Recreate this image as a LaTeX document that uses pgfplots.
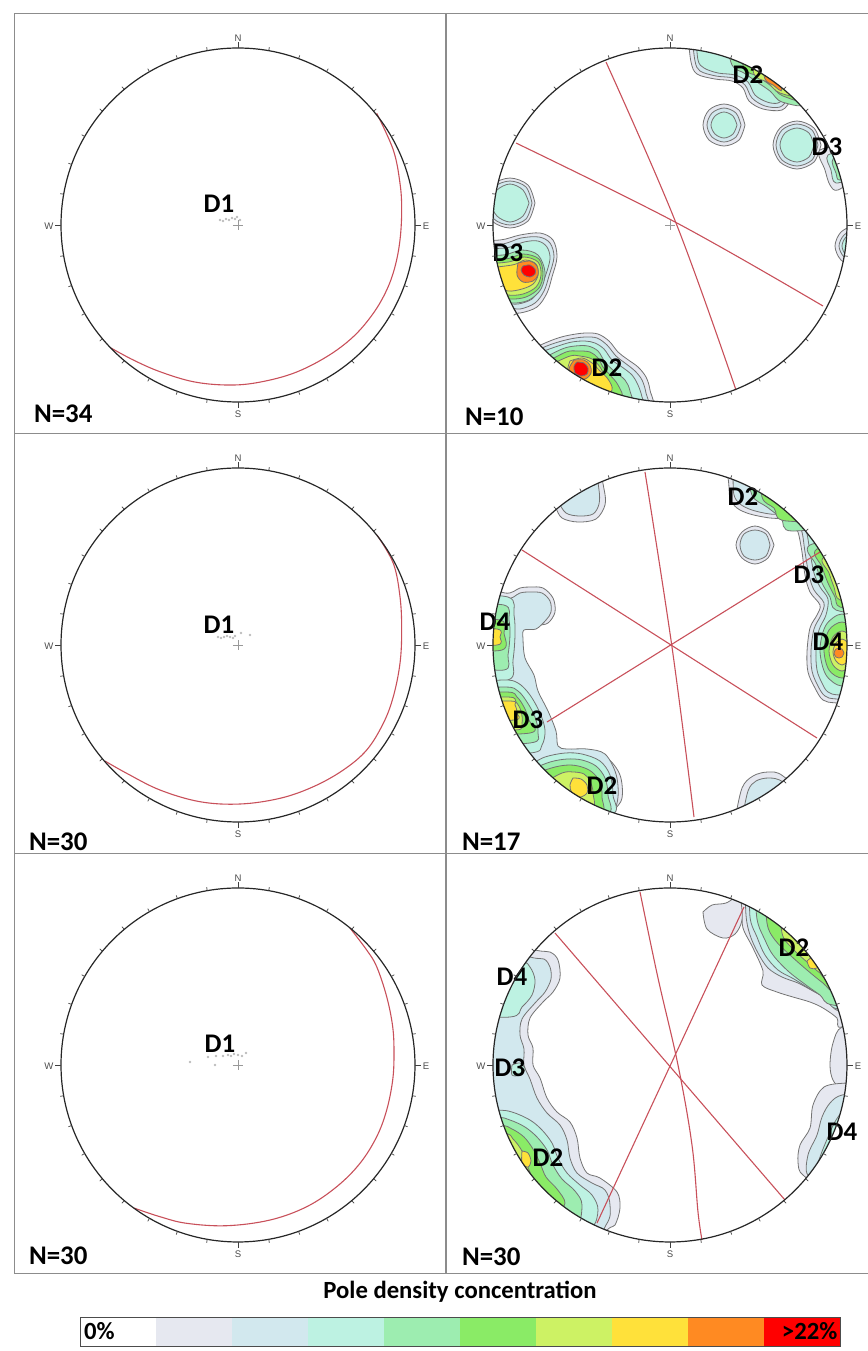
\documentclass[border=0pt]{standalone}
\usepackage{fontspec}
\setmainfont{Carlito}
\newfontfamily\tickfont{Liberation Sans}
\usepackage{pgfplots}
\pgfplotsset{compat=1.18}
\definecolor{c1}{HTML}{E6E8F0}
\definecolor{c2}{HTML}{D2E8EE}
\definecolor{c3}{HTML}{BDF2E2}
\definecolor{c4}{HTML}{9DEDB0}
\definecolor{c5}{HTML}{8AEB66}
\definecolor{c6}{HTML}{CDF264}
\definecolor{c7}{HTML}{FFE13A}
\definecolor{c8}{HTML}{FF8A22}
\definecolor{c9}{HTML}{FF0000}
\definecolor{arcred}{HTML}{C8505A}
\pgfplotsset{
 panel/.style={x=0.5bp, y=0.5bp, y dir=reverse, anchor=south west, ymin=-212, ymax=208,
   enlargelimits=false, xtick=\empty, ytick=\empty, axis line style={black!45, line width=0.5bp}},
 lev/.style={fill=#1, draw=black!55, line width=0.4bp, smooth, tension=0.55},
 gc/.style={arcred, line width=0.55bp, smooth, tension=0.6},
 dots/.style={only marks, mark=*, mark size=0.45bp, black!25},
 ctr/.style={only marks, mark=+, mark size=2.5bp, black!40},
}
\newcommand\lab{\fontsize{13.5}{16}\selectfont\bfseries}
\newcommand\nsew{\tickfont\fontsize{4.8}{5}\selectfont}
\newcommand\stereo[2]{%
 \begin{scope}[shift={({#1*0.5bp},{-#2*0.5bp})}, x=0.5bp, y=-0.5bp]
  \draw[line width=0.6bp, black!85] (0,0) circle[radius=177];
  \foreach \a in {0,10,...,350} \draw[line width=0.35bp, black!75] (\a:177) -- (\a:180.5);
  \foreach \a in {0,90,180,270} \draw[line width=0.35bp, black!75] (\a:177) -- (\a:183);
  \node[font=\nsew, text=black!70] at (0,-187) {N};
  \node[font=\nsew, text=black!70] at (0,189) {S};
  \node[font=\nsew, text=black!70] at (-189,1) {W};
  \node[font=\nsew, text=black!70] at (188,1) {E};
 \end{scope}}
\begin{document}
\begin{tikzpicture}
\useasboundingbox (0,0) rectangle (434bp,-675.5bp);

% ---------------- Panel 1 ----------------
\begin{axis}[panel, at={(7bp,-216.5bp)}, xmin=-224, xmax=208]
\addplot[gc] coordinates {(138.7,-111.7) (155.3,-75) (162,-41.7) (163.7,-15) (162,15) (157,41.7) (148.7,65) (135.3,88.3) (115.3,111.7) (88.7,131.7) (55.3,148.3) (18.7,157.7) (-11.3,160) (-44.7,156.7) (-78,146.7) (-104.7,135) (-127,123)};
\addplot[dots] coordinates {(-18,-5) (-15,-4) (-12,-6) (-9,-5) (-6,-7) (-3,-6) (-1,-8) (2,-5)};
\addplot[ctr] coordinates {(0,0)};
\node[font=\lab] at (axis cs:-19,-21) {D1};
\node[font=\lab, anchor=west] at (axis cs:-211,189) {N=34};
\end{axis}

% ---------------- Panel 2 ----------------
\begin{axis}[panel, at={(223bp,-216.5bp)}, xmin=-224, xmax=202]
\begin{scope}
\clip (axis cs:0,0) circle[radius=177];
% level 1
\addplot[lev=c1] coordinates {(75,-100) (69,-85) (54,-79) (39,-85) (33,-100) (39,-115) (54,-121) (69,-115) (75,-100)} -- cycle;
\addplot[lev=c1] coordinates {(151,-80) (144,-63) (127,-56) (110,-63) (103,-80) (110,-97) (127,-104) (144,-97) (151,-80)} -- cycle;
\addplot[lev=c1] coordinates {(185,-80) (150,-75) (155,-55) (160,-40) (168,-35) (190,-50)} -- cycle;
\addplot[lev=c1] coordinates {(-135,-22) (-142,-4) (-160,3) (-178,-4) (-185,-22) (-178,-40) (-160,-47) (-142,-40) (-135,-22)} -- cycle;
\addplot[lev=c1] coordinates {(205,21) (199,35) (185,41) (171,35) (165,21) (171,7) (185,1) (199,7) (205,21)} -- cycle;
\addplot[lev=c1] coordinates {(-200,15) (-170,15) (-150,10) (-130,8) (-117,15) (-113,32) (-118,52) (-123,68) (-133,82) (-150,88) (-163,87) (-180,85) (-200,70)} -- cycle;
\addplot[lev=c1] coordinates {(-140,125) (-125,118) (-112,113) (-100,110) (-85,108) (-72,109) (-61,116) (-52,127) (-43,134) (-32,142) (-24,152) (-20,165) (-19,185) (-60,200) (-130,170)} -- cycle;
\addplot[lev=c1] coordinates {(18,-190) (21,-163) (27,-151) (45,-146) (62,-144) (73,-137) (79,-124) (93,-116) (112,-115) (122,-126) (135,-140) (70,-200)} -- cycle;
% level 2
\addplot[lev=c2] coordinates {(71,-100) (66,-88) (54,-83) (42,-88) (37,-100) (42,-112) (54,-117) (66,-112) (71,-100)} -- cycle;
\addplot[lev=c2] coordinates {(148,-80) (142,-65) (127,-59) (112,-65) (106,-80) (112,-95) (127,-101) (142,-95) (148,-80)} -- cycle;
\addplot[lev=c2] coordinates {(-138,-22) (-144,-6) (-160,0) (-176,-6) (-182,-22) (-176,-38) (-160,-44) (-144,-38) (-138,-22)} -- cycle;
\addplot[lev=c2] coordinates {(201,21) (196,32) (185,37) (174,32) (169,21) (174,10) (185,5) (196,10) (201,21)} -- cycle;
\addplot[lev=c2] coordinates {(-200,19) (-168,19) (-149,13) (-131,12) (-120,18) (-116,32) (-121,51) (-126,66) (-135,78) (-150,84) (-163,82) (-180,80) (-200,65)} -- cycle;
\addplot[lev=c2] coordinates {(-140,128) (-118,119) (-100,114) (-85,112) (-73,113) (-63,120) (-54,131) (-45,138) (-35,146) (-28,155) (-24,168) (-23,185) (-60,195) (-125,168)} -- cycle;
\addplot[lev=c2] coordinates {(22,-190) (25,-164) (30,-154) (46,-149) (63,-147) (75,-140) (82,-127) (95,-119) (110,-118) (119,-127) (132,-140) (70,-200)} -- cycle;
% level 3
\addplot[lev=c3] coordinates {(67,-100) (63,-91) (54,-87) (45,-91) (41,-100) (45,-109) (54,-113) (63,-109) (67,-100)} -- cycle;
\addplot[lev=c3] coordinates {(144,-80) (139,-68) (127,-63) (115,-68) (110,-80) (115,-92) (127,-97) (139,-92) (144,-80)} -- cycle;
\addplot[lev=c3] coordinates {(185,-75) (158,-70) (161,-55) (166,-42) (190,-50)} -- cycle;
\addplot[lev=c3] coordinates {(-141,-22) (-147,-9) (-160,-3) (-173,-9) (-179,-22) (-173,-35) (-160,-41) (-147,-35) (-141,-22)} -- cycle;
\addplot[lev=c3] coordinates {(198,21) (194,30) (185,34) (176,30) (172,21) (176,12) (185,8) (194,12) (198,21)} -- cycle;
\addplot[lev=c3] coordinates {(-200,23) (-165,23) (-146,17) (-132,16) (-123,22) (-120,34) (-125,52) (-130,63) (-138,74) (-152,79) (-165,78) (-180,76) (-200,60)} -- cycle;
\addplot[lev=c3] coordinates {(-140,131) (-112,121) (-98,117) (-85,116) (-75,118) (-66,124) (-58,135) (-48,142) (-38,150) (-32,160) (-28,172) (-27,185) (-60,195) (-120,166)} -- cycle;
\addplot[lev=c3] coordinates {(26,-190) (28,-165) (34,-157) (48,-152) (65,-150) (78,-143) (85,-130) (97,-123) (108,-122) (116,-129) (128,-142) (70,-200)} -- cycle;
% level 4
\addplot[lev=c4] coordinates {(185,-70) (163,-66) (166,-52) (170,-45) (190,-55)} -- cycle;
\addplot[lev=c4] coordinates {(-200,30) (-167,30) (-148,25) (-132,30) (-125,47) (-129,64) (-141,75) (-157,78) (-174,74) (-200,58)} -- cycle;
\addplot[lev=c4] coordinates {(-130,135) (-108,124) (-95,121) (-82,121) (-72,126) (-65,137) (-56,146) (-45,155) (-40,166) (-38,185) (-70,195) (-115,165)} -- cycle;
\addplot[lev=c4] coordinates {(55,-190) (62,-160) (74,-152) (87,-143) (100,-134) (112,-123) (135,-125) (90,-195)} -- cycle;
% level 5
\addplot[lev=c5] coordinates {(-200,34) (-165,34) (-147,29) (-131,34) (-127,49) (-131,63) (-144,72) (-160,74) (-176,70) (-200,55)} -- cycle;
\addplot[lev=c5] coordinates {(-125,138) (-104,127) (-92,126) (-80,127) (-72,133) (-67,142) (-60,150) (-52,160) (-48,175) (-70,190) (-110,165)} -- cycle;
\addplot[lev=c5] coordinates {(68,-190) (74,-157) (87,-149) (100,-140) (113,-129) (135,-128) (90,-195)} -- cycle;
% level 6
\addplot[lev=c6] coordinates {(-200,40) (-162,37) (-146,32) (-132,37) (-129,50) (-134,62) (-147,69) (-162,70) (-177,65) (-200,52)} -- cycle;
\addplot[lev=c6] coordinates {(-120,140) (-100,131) (-90,131) (-78,134) (-70,142) (-65,152) (-60,162) (-60,178) (-80,185) (-105,165)} -- cycle;
\addplot[lev=c6] coordinates {(80,-185) (84,-151) (97,-143) (110,-132) (130,-133) (95,-190)} -- cycle;
% level 7
\addplot[lev=c7] coordinates {(-200,45) (-158,40) (-145,35) (-134,39) (-132,50) (-137,59) (-148,64) (-162,66) (-174,60) (-200,50)} -- cycle;
\addplot[lev=c7] coordinates {(-100,136) (-88,133) (-78,138) (-70,146) (-62,154) (-58,165) (-70,175) (-90,162) (-102,148) (-100,136)} -- cycle;
% level 8
\addplot[lev=c8] coordinates {(-152,38) (-140,36) (-133,41) (-132,50) (-137,56) (-147,57) (-153,50) (-152,38)} -- cycle;
\addplot[lev=c8] coordinates {(-96,135) (-86,135) (-80,140) (-79,148) (-85,154) (-96,153) (-101,144) (-96,135)} -- cycle;
\addplot[lev=c8] coordinates {(92,-165) (95,-146) (103,-140) (112,-136) (100,-175)} -- cycle;
% level 9
\addplot[lev=c9] coordinates {(-147,41) (-140,40) (-135,44) (-135,49) (-140,52) (-146,50) (-149,45) (-147,41)} -- cycle;
\addplot[lev=c9] coordinates {(-93,137) (-86,138) (-82,143) (-83,149) (-89,151) (-95,148) (-96,141) (-93,137)} -- cycle;
\end{scope}
\addplot[gc] coordinates {(-64,-163) (6,-2) (66,165)};
\addplot[gc] coordinates {(-154,-82) (7,-2) (153,81)};
\addplot[ctr] coordinates {(0,0)};
\node[font=\lab] at (axis cs:78,-150) {D2};
\node[font=\lab] at (axis cs:157,-78) {D3};
\node[font=\lab] at (axis cs:-162,28) {D3};
\node[font=\lab] at (axis cs:-63,143) {D2};
\node[font=\lab, anchor=west] at (axis cs:-212,192) {N=10};
\end{axis}

% ---------------- Panel 3 ----------------
\begin{axis}[panel, at={(7bp,-426.5bp)}, xmin=-224, xmax=208]
\addplot[gc] coordinates {(139,-110) (155.3,-81.7) (162,-48.3) (163.7,-15) (162,18.3) (155.3,51.7) (145.3,78.3) (128.7,105) (105.3,125) (75.3,141.7) (42,153.3) (2,159) (-38,156.7) (-78,145) (-111.3,128.3) (-133,116)};
\addplot[dots] coordinates {(-20,-8) (-17,-7) (-14,-8) (-11,-9) (-8,-8) (-5,-7) (-3,-9) (12,-10) (3,-12)};
\addplot[ctr] coordinates {(0,0)};
\node[font=\lab] at (axis cs:-19,-20) {D1};
\node[font=\lab, anchor=west] at (axis cs:-216,197) {N=30};
\end{axis}

% ---------------- Panel 4 ----------------
\begin{axis}[panel, at={(223bp,-426.5bp)}, xmin=-224, xmax=202]
\begin{scope}
\clip (axis cs:0,0) circle[radius=177];
% level 1
\addplot[lev=c1] coordinates {(-125,-150) (-115,-138) (-108,-127) (-92,-123) (-74,-126) (-65,-140) (-66,-156) (-72,-172) (-100,-195)} -- cycle;
\addplot[lev=c1] coordinates {(50,-200) (58,-167) (60,-147) (67,-137) (80,-131) (100,-127) (118,-126) (123,-120) (128,-113) (132,-93) (135,-70) (140,-53) (150,-40) (147,-30) (140,-17) (137,7) (138,27) (145,43) (153,55) (167,58) (210,60) (210,-200)} -- cycle;
\addplot[lev=c1] coordinates {(104,-100) (98,-87) (85,-81) (72,-87) (66,-100) (72,-113) (85,-119) (98,-113) (104,-100)} -- cycle;
\addplot[lev=c1] coordinates {(-200,-65) (-165,-52) (-150,-57) (-140,-58) (-127,-57) (-117,-47) (-115,-33) (-122,-22) (-133,-20) (-148,-20) (-152,-7) (-150,13) (-140,30) (-137,47) (-127,67) (-118,87) (-117,105) (-103,108) (-83,108) (-63,113) (-50,130) (-48,153) (-57,167) (-80,200) (-220,50)} -- cycle;
\addplot[lev=c1] coordinates {(65,175) (72,143) (83,131) (98,127) (113,131) (140,160) (100,200)} -- cycle;
% level 2
\addplot[lev=c2] coordinates {(-120,-150) (-112,-143) (-104,-132) (-91,-129) (-77,-131) (-71,-141) (-71,-155) (-76,-172) (-100,-190)} -- cycle;
\addplot[lev=c2] coordinates {(62,-200) (63,-167) (64,-150) (70,-141) (82,-135) (100,-131) (120,-130) (127,-122) (132,-113) (135,-93) (139,-70) (144,-55) (154,-42) (151,-30) (144,-16) (141,6) (142,26) (148,41) (155,51) (167,54) (210,55) (210,-200)} -- cycle;
\addplot[lev=c2] coordinates {(100,-100) (96,-89) (85,-85) (74,-89) (70,-100) (74,-111) (85,-115) (96,-111) (100,-100)} -- cycle;
\addplot[lev=c2] coordinates {(-200,-58) (-165,-46) (-150,-52) (-140,-53) (-128,-52) (-120,-44) (-119,-33) (-124,-25) (-134,-16) (-146,-15) (-147,-6) (-145,13) (-136,30) (-132,46) (-122,66) (-114,86) (-112,101) (-103,104) (-83,104) (-65,109) (-54,129) (-52,152) (-58,170) (-80,200) (-220,50)} -- cycle;
\addplot[lev=c2] coordinates {(72,175) (78,146) (86,136) (99,133) (113,137) (140,160) (100,200)} -- cycle;
% level 3
\addplot[lev=c3] coordinates {(75,-200) (78,-165) (85,-152) (100,-145) (115,-140) (128,-128) (136,-115) (140,-93) (144,-72) (150,-58) (158,-46) (156,-30) (149,-15) (146,6) (147,25) (152,38) (158,47) (170,50) (210,50) (210,-200)} -- cycle;
\addplot[lev=c3] coordinates {(-220,-50) (-162,-48) (-156,-30) (-155,-10) (-157,15) (-162,35) (-220,35)} -- cycle;
\addplot[lev=c3] coordinates {(-220,40) (-168,35) (-152,38) (-140,50) (-130,68) (-125,85) (-128,100) (-140,108) (-220,110)} -- cycle;
\addplot[lev=c3] coordinates {(-140,120) (-125,112) (-105,108) (-88,109) (-70,116) (-60,130) (-57,150) (-60,170) (-140,170)} -- cycle;
% level 4
\addplot[lev=c4] coordinates {(75,-185) (82,-150) (97,-138) (111,-127) (123,-114) (200,-130) (150,-200)} -- cycle;
\addplot[lev=c4] coordinates {(200,-110) (140,-100) (146,-80) (152,-62) (160,-48) (166,-35) (200,-30)} -- cycle;
\addplot[lev=c4] coordinates {(194,5) (188,30) (172,41) (156,30) (150,5) (156,-20) (172,-31) (188,-20) (194,5)} -- cycle;
\addplot[lev=c4] coordinates {(-220,-40) (-166,-40) (-161,-25) (-160,-10) (-162,10) (-166,25) (-220,20)} -- cycle;
\addplot[lev=c4] coordinates {(-220,45) (-165,42) (-152,46) (-143,57) (-135,72) (-132,88) (-140,98) (-220,100)} -- cycle;
\addplot[lev=c4] coordinates {(-140,125) (-120,117) (-103,114) (-88,115) (-74,121) (-65,133) (-62,150) (-65,170) (-140,165)} -- cycle;
% level 5
\addplot[lev=c5] coordinates {(90,-185) (92,-148) (104,-137) (117,-124) (200,-130) (150,-200)} -- cycle;
\addplot[lev=c5] coordinates {(200,-105) (147,-96) (152,-78) (158,-62) (165,-48) (170,-38) (200,-35)} -- cycle;
\addplot[lev=c5] coordinates {(190,5) (185,25) (172,33) (159,25) (154,5) (159,-15) (172,-23) (185,-15) (190,5)} -- cycle;
\addplot[lev=c5] coordinates {(-220,-25) (-170,-25) (-166,-12) (-168,5) (-220,5)} -- cycle;
\addplot[lev=c5] coordinates {(-220,50) (-163,47) (-153,52) (-146,62) (-141,75) (-140,88) (-220,90)} -- cycle;
\addplot[lev=c5] coordinates {(-140,130) (-115,122) (-100,120) (-88,122) (-78,127) (-70,137) (-68,152) (-72,170) (-140,160)} -- cycle;
% level 6
\addplot[lev=c6] coordinates {(200,-100) (154,-88) (159,-72) (164,-58) (170,-45) (200,-45)} -- cycle;
\addplot[lev=c6] coordinates {(185,6) (181,20) (172,26) (163,20) (159,6) (163,-8) (172,-14) (181,-8) (185,6)} -- cycle;
\addplot[lev=c6] coordinates {(-220,55) (-162,52) (-154,57) (-149,66) (-148,78) (-155,85) (-220,80)} -- cycle;
\addplot[lev=c6] coordinates {(-130,140) (-108,128) (-96,127) (-86,129) (-80,136) (-77,148) (-80,165) (-130,165)} -- cycle;
% level 7
\addplot[lev=c7] coordinates {(181,7) (178,16) (172,20) (166,16) (163,7) (166,-2) (172,-6) (178,-2) (181,7)} -- cycle;
\addplot[lev=c7] coordinates {(-220,-16) (-173,-16) (-170,-8) (-173,0) (-220,0)} -- cycle;
\addplot[lev=c7] coordinates {(-220,58) (-160,56) (-155,60) (-153,68) (-156,75) (-220,75)} -- cycle;
\addplot[lev=c7] coordinates {(-97,133) (-89,134) (-83,140) (-83,148) (-90,152) (-98,148) (-100,140) (-97,133)} -- cycle;
% level 8
\addplot[lev=c8] coordinates {(174,8) (172,12) (169,13) (166,12) (164,8) (166,4) (169,3) (172,4) (174,8)} -- cycle;
\end{scope}
\addplot[gc] coordinates {(-25,-173) (2,2) (24,172)};
\addplot[gc] coordinates {(-148,-95) (147,93)};
\addplot[gc] coordinates {(-123,77) (150,-93)};
\node[font=\lab] at (axis cs:73,-148) {D2};
\node[font=\lab] at (axis cs:139,-70) {D3};
\node[font=\lab] at (axis cs:-175,-23) {D4};
\node[font=\lab] at (axis cs:158,-3) {D4};
\node[font=\lab] at (axis cs:-142,75) {D3};
\node[font=\lab] at (axis cs:-68,141) {D2};
\node[font=\lab, anchor=west] at (axis cs:-215,197) {N=17};
\end{axis}

% ---------------- Panel 5 ----------------
\begin{axis}[panel, at={(7bp,-636.5bp)}, xmin=-224, xmax=208]
\addplot[gc] coordinates {(112,-137) (128.7,-115) (138.7,-98.3) (148.7,-68.3) (154.7,-38.3) (156,-11.7) (154.7,15) (148.7,45) (138.7,71.7) (122,98.3) (98.7,121.7) (68.7,141.7) (32,155) (-11.3,160.7) (-51.3,158.3) (-78,151.7) (-104,143)};
\addplot[dots] coordinates {(-48,-3) (-23,0) (-30,-8) (-22,-9) (-15,-9) (-10,-10) (-7,-9) (-4,-11) (0,-10) (4,-9) (8,-12)};
\addplot[ctr] coordinates {(0,0)};
\node[font=\lab] at (axis cs:-18,-21) {D1};
\node[font=\lab, anchor=west] at (axis cs:-216,191) {N=30};
\end{axis}

% ---------------- Panel 6 ----------------
\begin{axis}[panel, at={(223bp,-636.5bp)}, xmin=-224, xmax=202]
\begin{scope}
\clip (axis cs:0,0) circle[radius=177];
% level 1
\addplot[lev=c1] coordinates {(33,-153) (37,-136) (53,-127) (65,-131) (72,-145) (72,-170) (56,-162) (42,-160) (33,-153)} -- cycle;
\addplot[lev=c1] coordinates {(68,-190) (72,-155) (73,-137) (83,-117) (93,-94) (92,-80) (107,-73) (123,-68) (140,-63) (153,-57) (167,-47) (172,-38) (220,-60) (150,-200)} -- cycle;
\addplot[lev=c1] coordinates {(200,-38) (172,-38) (163,-22) (160,0) (163,15) (172,22) (200,20)} -- cycle;
\addplot[lev=c1] coordinates {(200,18) (176,18) (154,22) (143,40) (140,63) (130,80) (128,97) (133,110) (160,120) (220,60)} -- cycle;
\addplot[lev=c1] coordinates {(-200,-130) (-135,-115) (-120,-113) (-112,-105) (-110,-87) (-117,-73) (-127,-63) (-140,-47) (-142,-30) (-137,-17) (-137,0) (-130,13) (-123,33) (-113,47) (-100,57) (-93,73) (-90,93) (-83,108) (-70,113) (-53,127) (-50,143) (-55,160) (-63,165) (-100,200) (-230,50)} -- cycle;
% level 2
\addplot[lev=c2] coordinates {(75,-190) (76,-150) (80,-130) (88,-112) (98,-97) (112,-88) (128,-82) (143,-74) (157,-66) (170,-54) (220,-55) (150,-200)} -- cycle;
\addplot[lev=c2] coordinates {(200,28) (172,30) (160,38) (152,52) (147,70) (138,90) (138,110) (160,110) (220,60)} -- cycle;
\addplot[lev=c2] coordinates {(-200,-125) (-140,-108) (-126,-106) (-120,-98) (-119,-86) (-125,-73) (-135,-62) (-148,-46) (-150,-30) (-146,-16) (-146,0) (-140,14) (-133,33) (-123,48) (-110,60) (-103,75) (-100,93) (-93,108) (-78,118) (-65,125) (-60,140) (-64,160) (-100,200) (-230,50)} -- cycle;
% level 3
\addplot[lev=c3] coordinates {(80,-190) (80,-148) (87,-128) (95,-110) (108,-95) (124,-86) (140,-76) (155,-67) (168,-56) (220,-55) (150,-200)} -- cycle;
\addplot[lev=c3] coordinates {(200,42) (176,45) (166,55) (158,72) (150,92) (145,110) (160,110) (220,60)} -- cycle;
\addplot[lev=c3] coordinates {(-200,-120) (-150,-105) (-140,-98) (-135,-85) (-138,-70) (-148,-58) (-160,-48) (-230,-50)} -- cycle;
\addplot[lev=c3] coordinates {(-158,0) (-150,-2) (-145,4) (-150,10) (-158,10) (-158,0)} -- cycle;
\addplot[lev=c3] coordinates {(-230,45) (-175,45) (-158,47) (-140,55) (-128,65) (-118,78) (-112,93) (-103,108) (-90,120) (-78,130) (-72,145) (-80,165) (-120,190)} -- cycle;
% level 4
\addplot[lev=c4] coordinates {(85,-185) (87,-146) (95,-125) (103,-110) (118,-94) (136,-80) (150,-70) (163,-60) (220,-60) (150,-200)} -- cycle;
\addplot[lev=c4] coordinates {(-230,52) (-175,52) (-160,55) (-145,62) (-133,72) (-123,85) (-117,100) (-108,114) (-95,126) (-88,140) (-95,165) (-130,180)} -- cycle;
% level 5
\addplot[lev=c5] coordinates {(95,-185) (97,-142) (105,-125) (120,-110) (137,-95) (153,-82) (168,-72) (220,-70) (150,-200)} -- cycle;
\addplot[lev=c5] coordinates {(-230,60) (-172,60) (-158,64) (-146,72) (-137,84) (-130,98) (-124,112) (-113,124) (-105,138) (-115,150) (-140,165)} -- cycle;
% level 6
\addplot[lev=c6] coordinates {(110,-170) (112,-132) (122,-117) (137,-103) (150,-92) (162,-85) (220,-90) (160,-170)} -- cycle;
\addplot[lev=c6] coordinates {(-230,68) (-168,68) (-157,74) (-148,86) (-143,100) (-138,114) (-140,128) (-180,130)} -- cycle;
% level 7
\addplot[lev=c7] coordinates {(137,-104) (143,-108) (150,-104) (147,-97) (140,-97) (137,-104)} -- cycle;
\addplot[lev=c7] coordinates {(-148,86) (-142,88) (-139,96) (-142,102) (-148,98) (-148,86)} -- cycle;
\end{scope}
\addplot[gc] coordinates {(-30,-173) (-12,-87) (8,0) (22,80) (28,147) (32,175)};
\addplot[gc] coordinates {(-115,-132) (115,135)};
\addplot[gc] coordinates {(-73,158) (74,-158)};
\node[font=\lab] at (axis cs:124,-117) {D2};
\node[font=\lab] at (axis cs:-158,-88) {D4};
\node[font=\lab] at (axis cs:-160,3) {D3};
\node[font=\lab] at (axis cs:172,67) {D4};
\node[font=\lab] at (axis cs:-122,93) {D2};
\node[font=\lab, anchor=west] at (axis cs:-215,192) {N=30};
\end{axis}

% ---------------- Colour scale ----------------
\begin{axis}[at={(40bp,-673bp)}, anchor=south west, x=38bp, y=14.5bp, xmin=0, xmax=10, ymin=0, ymax=1,
  enlargelimits=false, xtick=\empty, ytick=\empty, axis line style={black!70, line width=0.5bp}, axis on top]
\addplot[fill=white, draw=none] coordinates {(0,0) (1,0) (1,1) (0,1)} -- cycle;
\addplot[fill=c1, draw=none] coordinates {(1,0) (2,0) (2,1) (1,1)} -- cycle;
\addplot[fill=c2, draw=none] coordinates {(2,0) (3,0) (3,1) (2,1)} -- cycle;
\addplot[fill=c3, draw=none] coordinates {(3,0) (4,0) (4,1) (3,1)} -- cycle;
\addplot[fill=c4, draw=none] coordinates {(4,0) (5,0) (5,1) (4,1)} -- cycle;
\addplot[fill=c5, draw=none] coordinates {(5,0) (6,0) (6,1) (5,1)} -- cycle;
\addplot[fill=c6, draw=none] coordinates {(6,0) (7,0) (7,1) (6,1)} -- cycle;
\addplot[fill=c7, draw=none] coordinates {(7,0) (8,0) (8,1) (7,1)} -- cycle;
\addplot[fill=c8, draw=none] coordinates {(8,0) (9,0) (9,1) (8,1)} -- cycle;
\addplot[fill=c9, draw=none] coordinates {(9,0) (10,0) (10,1) (9,1)} -- cycle;
\node[font=\fontsize{12.4}{14}\selectfont\bfseries, anchor=west, inner sep=0pt] at (axis cs:0.05,0.5) {0\%};
\node[font=\fontsize{12.4}{14}\selectfont\bfseries, anchor=east, inner sep=0pt] at (axis cs:9.97,0.5) {>22\%};
\end{axis}
\node[font=\fontsize{12.4}{14}\selectfont\bfseries] at (230bp,-646bp) {Pole density concentration};

% ---------------- Stereonet primitives ----------------
\stereo{238}{225}
\stereo{670}{225}
\stereo{238}{645}
\stereo{670}{645}
\stereo{238}{1065}
\stereo{670}{1065}
\end{tikzpicture}
\end{document}
